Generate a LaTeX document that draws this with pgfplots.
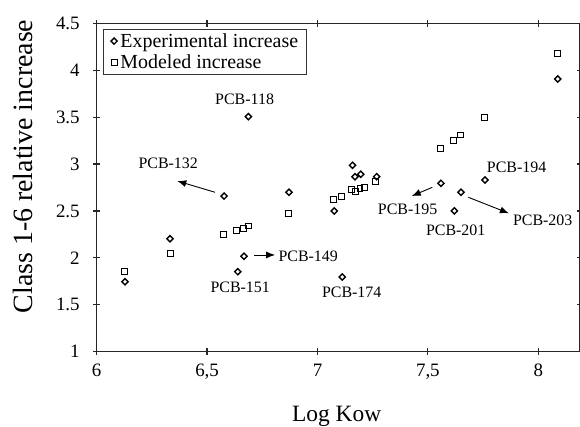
\documentclass[border=0pt]{standalone}
\usepackage{fontspec}
\setmainfont{Liberation Serif}
\usepackage{pgfplots}
\pgfplotsset{compat=1.18}
\usetikzlibrary{arrows.meta}
\begin{document}
\begin{tikzpicture}
\begin{axis}[
  scale only axis, width=483.3bp, height=328.4bp,
  xmin=6, xmax=8.189, ymin=1, ymax=4.5,
  xtick={6,6.5,7,7.5,8}, xticklabels={6,{6,5},7,{7,5},8},
  ytick={1,1.5,2,2.5,3,3.5,4,4.5}, yticklabels={1,1.5,2,2.5,3,3.5,4,4.5},
  tick align=center, major tick length=7bp,
  axis line style={line width=1.2bp, black!85},
  every tick/.style={line width=1.2bp, black!85},
  tick label style={font=\fontsize{19}{19}\selectfont},
  yticklabel style={xshift=-10bp},
  xticklabel style={yshift=-5bp},
  /pgf/number format/assume math mode=true,
  clip=false,
  legend cell align=left,
  legend style={at={(rel axis cs:0,1)}, anchor=north west, xshift=6.6bp, yshift=-5.7bp,
    draw=black!80, line width=0.8bp, font=\fontsize{20}{22}\selectfont,
    inner xsep=6bp, inner ysep=2bp, row sep=2bp, column sep=0bp},
  legend image code/.code={\draw[mark repeat=1,#1] plot coordinates {(4bp,0bp)}; \path (0bp,0bp) (8bp,0bp);},
]
\addplot[only marks, mark=square, mark size=2.2bp, mark options={rotate=45, line width=1.4bp, black}] coordinates {
(6.128,1.746) (6.332,2.204) (6.577,2.659) (6.639,1.853) (6.667,2.017) (6.687,3.505)
(6.871,2.699) (7.076,2.500) (7.112,1.796) (7.159,2.987) (7.170,2.865) (7.196,2.891)
(7.268,2.865) (7.559,2.795) (7.650,2.699) (7.620,2.500) (7.759,2.830) (8.088,3.906)
};
\addlegendentry{Experimental increase}
\addplot[only marks, mark=square, mark size=2.9bp, mark options={line width=0.8bp, black}] coordinates {
(6.125,1.860) (6.332,2.049) (6.573,2.251) (6.634,2.294) (6.666,2.318) (6.687,2.340)
(6.870,2.471) (7.072,2.624) (7.110,2.659) (7.155,2.731) (7.170,2.705) (7.192,2.741)
(7.212,2.752) (7.264,2.812) (7.556,3.164) (7.617,3.249) (7.647,3.310) (7.755,3.494)
(8.086,4.180)
};
\addlegendentry{Modeled increase}
\begin{scope}[font=\fontsize{16}{16}\selectfont]
\node[anchor=base] at (axis cs:6.670,3.637) {PCB-118};
\node[anchor=base] at (axis cs:6.324,2.955) {PCB-132};
\node[anchor=base] at (axis cs:6.958,1.959) {PCB-149};
\node[anchor=base] at (axis cs:6.650,1.633) {PCB-151};
\node[anchor=base] at (axis cs:7.155,1.576) {PCB-174};
\node[anchor=base] at (axis cs:7.408,2.457) {PCB-195};
\node[anchor=base] at (axis cs:7.626,2.236) {PCB-201};
\node[anchor=base] at (axis cs:8.020,2.350) {PCB-203};
\node[anchor=base] at (axis cs:7.902,2.908) {PCB-194};
\end{scope}
\begin{scope}[line width=0.9bp, -{Latex[length=9bp,width=7bp]}]
\draw (axis cs:6.536,2.699) -- (axis cs:6.365,2.819);
\draw (axis cs:6.714,2.031) -- (axis cs:6.808,2.031);
\draw (axis cs:7.520,2.752) -- (axis cs:7.427,2.659);
\draw (axis cs:7.683,2.646) -- (axis cs:7.867,2.475);
\end{scope}
\node[rotate=90, font=\fontsize{28}{28}\selectfont] at (axis cs:5.666,2.974) {Class 1-6 relative increase};
\node[anchor=base, font=\fontsize{23.5}{24}\selectfont] at (axis cs:7.087,0.254) {Log Kow};
\coordinate (bl) at (rel axis cs:0,0);
\coordinate (tr) at (rel axis cs:1,1);
\end{axis}
\pgfresetboundingbox
\path[use as bounding box] ([xshift=-96.7bp,yshift=-75.3bp]bl) rectangle ([yshift=23.3bp]tr);
\end{tikzpicture}
\end{document}
